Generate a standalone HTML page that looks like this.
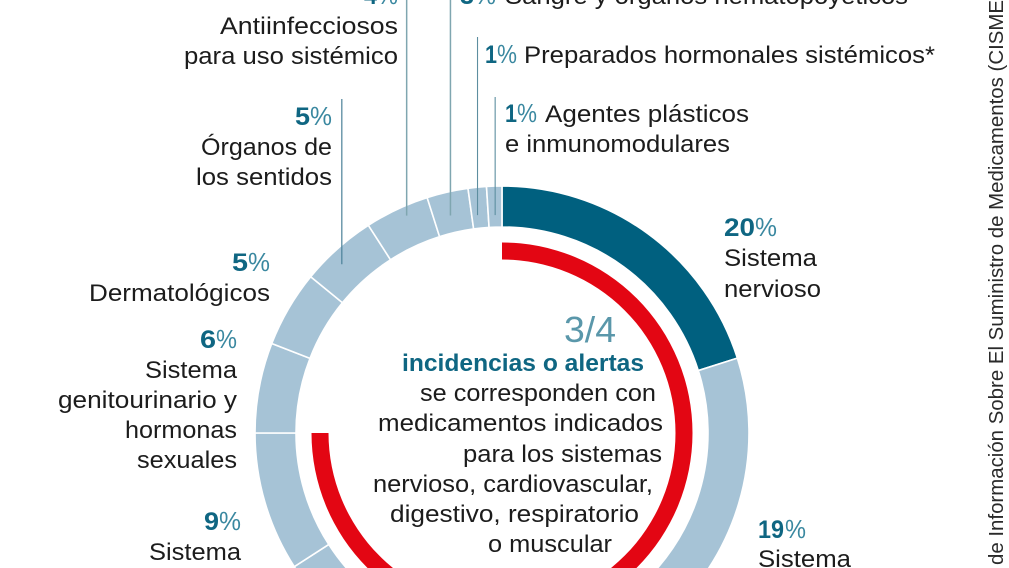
<!DOCTYPE html>
<html lang="es">
<head>
<meta charset="utf-8">
<title>Incidencias por grupo terapéutico</title>
<style>
html,body{margin:0;padding:0;background:#fff;}
body{width:1009px;height:568px;overflow:hidden;}
svg{display:block;}
text{font-family:"Liberation Sans",sans-serif;}
.t{font-size:24.5px;fill:#1c1c1c;}
.n{font-size:25px;font-weight:bold;fill:#0f6682;}
.p{font-size:25.5px;fill:#3a88a0;}
.src{font-size:20px;fill:#2a2a2a;}
</style>
</head>
<body>
<svg id="chart" xmlns="http://www.w3.org/2000/svg" width="1009" height="568" viewBox="0 0 1009 568">
  <g id="rings"></g>
  <g id="leaders"></g>

  <g>
    <text class="n" x="364" y="4" textLength="13" lengthAdjust="spacingAndGlyphs">4</text>
    <text class="p" x="377" y="4" textLength="21" lengthAdjust="spacingAndGlyphs">%</text>
    <text class="t" x="220" y="34" textLength="178" lengthAdjust="spacingAndGlyphs">Antiinfecciosos</text>
    <text class="t" x="184" y="64" textLength="214" lengthAdjust="spacingAndGlyphs">para uso sistémico</text>
  </g>
  <g>
    <text class="n" x="460" y="4" textLength="14" lengthAdjust="spacingAndGlyphs">3</text>
    <text class="p" x="474" y="4" textLength="22" lengthAdjust="spacingAndGlyphs">%</text>
    <text class="t" x="505" y="4" textLength="403" lengthAdjust="spacingAndGlyphs">Sangre y órganos hematopoyéticos</text>
  </g>
  <g>
    <text class="n" x="485" y="63" textLength="12" lengthAdjust="spacingAndGlyphs">1</text>
    <text class="p" x="497" y="63" textLength="20" lengthAdjust="spacingAndGlyphs">%</text>
    <text class="t" x="524" y="63" textLength="411" lengthAdjust="spacingAndGlyphs">Preparados hormonales sistémicos*</text>
  </g>
  <g>
    <text class="n" x="505" y="122" textLength="12" lengthAdjust="spacingAndGlyphs">1</text>
    <text class="p" x="517" y="122" textLength="20" lengthAdjust="spacingAndGlyphs">%</text>
    <text class="t" x="545" y="122" textLength="204" lengthAdjust="spacingAndGlyphs">Agentes plásticos</text>
    <text class="t" x="505" y="152" textLength="225" lengthAdjust="spacingAndGlyphs">e inmunomodulares</text>
  </g>
  <g>
    <text class="n" x="295" y="125" textLength="15" lengthAdjust="spacingAndGlyphs">5</text>
    <text class="p" x="310" y="125" textLength="22" lengthAdjust="spacingAndGlyphs">%</text>
    <text class="t" x="201" y="155" textLength="131" lengthAdjust="spacingAndGlyphs">Órganos de</text>
    <text class="t" x="196" y="185" textLength="136" lengthAdjust="spacingAndGlyphs">los sentidos</text>
  </g>
  <g>
    <text class="n" x="232" y="271" textLength="16" lengthAdjust="spacingAndGlyphs">5</text>
    <text class="p" x="248" y="271" textLength="22" lengthAdjust="spacingAndGlyphs">%</text>
    <text class="t" x="89" y="301" textLength="181" lengthAdjust="spacingAndGlyphs">Dermatológicos</text>
  </g>
  <g>
    <text class="n" x="200" y="348" textLength="16" lengthAdjust="spacingAndGlyphs">6</text>
    <text class="p" x="216" y="348" textLength="21" lengthAdjust="spacingAndGlyphs">%</text>
    <text class="t" x="145" y="378" textLength="92" lengthAdjust="spacingAndGlyphs">Sistema</text>
    <text class="t" x="58" y="408" textLength="179" lengthAdjust="spacingAndGlyphs">genitourinario y</text>
    <text class="t" x="125" y="438" textLength="112" lengthAdjust="spacingAndGlyphs">hormonas</text>
    <text class="t" x="137" y="468" textLength="100" lengthAdjust="spacingAndGlyphs">sexuales</text>
  </g>
  <g>
    <text class="n" x="204" y="530" textLength="15" lengthAdjust="spacingAndGlyphs">9</text>
    <text class="p" x="219" y="530" textLength="22" lengthAdjust="spacingAndGlyphs">%</text>
    <text class="t" x="149" y="560" textLength="92" lengthAdjust="spacingAndGlyphs">Sistema</text>
  </g>
  <g>
    <text class="n" x="724" y="236" textLength="31" lengthAdjust="spacingAndGlyphs">20</text>
    <text class="p" x="755" y="236" textLength="22" lengthAdjust="spacingAndGlyphs">%</text>
    <text class="t" x="724" y="266" textLength="93" lengthAdjust="spacingAndGlyphs">Sistema</text>
    <text class="t" x="724" y="297" textLength="97" lengthAdjust="spacingAndGlyphs">nervioso</text>
  </g>
  <g>
    <text class="n" x="758" y="538" textLength="26" lengthAdjust="spacingAndGlyphs">19</text>
    <text class="p" x="785" y="538" textLength="21" lengthAdjust="spacingAndGlyphs">%</text>
    <text class="t" x="758" y="567" textLength="93" lengthAdjust="spacingAndGlyphs">Sistema</text>
  </g>

  <g>
    <text x="564" y="342" textLength="52" lengthAdjust="spacingAndGlyphs" style="font-size:36px;fill:#5a97aa">3/4</text>
    <text x="402" y="371" textLength="242" lengthAdjust="spacingAndGlyphs" style="font-size:24.5px;font-weight:bold;fill:#0f6682">incidencias o alertas</text>
    <text class="t" x="420" y="401" textLength="236" lengthAdjust="spacingAndGlyphs">se corresponden con</text>
    <text class="t" x="378" y="431" textLength="285" lengthAdjust="spacingAndGlyphs">medicamentos indicados</text>
    <text class="t" x="463" y="462" textLength="199" lengthAdjust="spacingAndGlyphs">para los sistemas</text>
    <text class="t" x="373" y="492" textLength="280" lengthAdjust="spacingAndGlyphs">nervioso, cardiovascular,</text>
    <text class="t" x="390" y="522" textLength="249" lengthAdjust="spacingAndGlyphs">digestivo, respiratorio</text>
    <text class="t" x="488" y="552" textLength="124" lengthAdjust="spacingAndGlyphs">o muscular</text>
  </g>

  <text class="src" transform="translate(1003,565) rotate(-90)" textLength="565" lengthAdjust="spacingAndGlyphs">de Información Sobre El Suministro de Medicamentos (CISME</text>
</svg>
<script>
// Clockwise from 12 o'clock. The bottom slice is cropped out of the frame.
const categories = ["Sistema nervioso", "Sistema (19%)", "No visibles", "Sistema (9%)", "Genitourinario", "Dermatológicos", "Órganos de los sentidos", "Antiinfecciosos", "Sangre", "Preparados hormonales", "Agentes plásticos"];
const sliceValues = [20.1, 19, 26.8, 9.1, 5.9, 5, 5, 4.2, 2.7, 1.2, 1];
const highlightedCategory = ["Sistema nervioso"];
const alertShare = [75];
const alertTotal = [100];
const annotatedCategories = ["Órganos de los sentidos", "Antiinfecciosos", "Sangre", "Preparados hormonales", "Agentes plásticos"];

const SVG_NS = "http://www.w3.org/2000/svg";
const CX = 502, CY = 433;
const OUTER_R = 247, INNER_R = 206, RED_OUTER_R = 190.5, RED_INNER_R = 173.5;
const LEADER_STYLE = [
  {top: 99, reach: 233, nudgeX: -5, nudgeY: 5, width: 1.2, color: "#4a8098"},
  {top: 0, reach: 238, nudgeX: 6, nudgeY: -2, width: 1.5, color: "#7fa6b0"},
  {top: 0, reach: 224, nudgeX: -2, nudgeY: 1, width: 1.5, color: "#7fa6b0"},
  {top: 37, reach: 219, nudgeX: -2.5, nudgeY: 0, width: 1.1, color: "#5d8ea0"},
  {top: 97, reach: 218, nudgeX: 0, nudgeY: 0, width: 1.1, color: "#5d8ea0"}
];

function pointAt(share, radius) {
  const a = share * 2 * Math.PI;
  return [CX + radius * Math.sin(a), CY - radius * Math.cos(a)];
}
function sectorPath(fromShare, toShare, outer, inner) {
  const large = (toShare - fromShare) > 0.5 ? 1 : 0;
  const p1 = pointAt(fromShare, outer), p2 = pointAt(toShare, outer);
  const p3 = pointAt(toShare, inner), p4 = pointAt(fromShare, inner);
  return "M" + p1[0] + " " + p1[1] +
    "A" + outer + " " + outer + " 0 " + large + " 1 " + p2[0] + " " + p2[1] +
    "L" + p3[0] + " " + p3[1] +
    "A" + inner + " " + inner + " 0 " + large + " 0 " + p4[0] + " " + p4[1] + "Z";
}

const rings = document.getElementById("rings");
const leaders = document.getElementById("leaders");
const total = sliceValues.reduce(function (s, v) { return s + v; }, 0);
let running = 0;
const midShares = {};
sliceValues.forEach(function (value, i) {
  const from = running / total;
  running += value;
  const to = running / total;
  midShares[categories[i]] = (from + to) / 2;
  const path = document.createElementNS(SVG_NS, "path");
  path.setAttribute("d", sectorPath(from, to, OUTER_R, INNER_R));
  path.setAttribute("fill", highlightedCategory.indexOf(categories[i]) >= 0 ? "#00607f" : "#a6c3d6");
  path.setAttribute("stroke", "#ffffff");
  path.setAttribute("stroke-width", "1.6");
  
  
  rings.appendChild(path);
});

const redArc = document.createElementNS(SVG_NS, "path");
redArc.setAttribute("d", sectorPath(0, alertShare[0] / alertTotal[0], RED_OUTER_R, RED_INNER_R));
redArc.setAttribute("fill", "#e30613");


rings.appendChild(redArc);

annotatedCategories.forEach(function (name, i) {
  const style = LEADER_STYLE[i];
  const end = pointAt(midShares[name], style.reach);
  const line = document.createElementNS(SVG_NS, "line");
  line.setAttribute("x1", end[0] + style.nudgeX);
  line.setAttribute("x2", end[0] + style.nudgeX);
  line.setAttribute("y1", style.top);
  line.setAttribute("y2", end[1] + style.nudgeY);
  line.setAttribute("stroke", style.color);
  line.setAttribute("stroke-width", style.width);
  
  
  leaders.appendChild(line);
});
</script>
</body>
</html>
